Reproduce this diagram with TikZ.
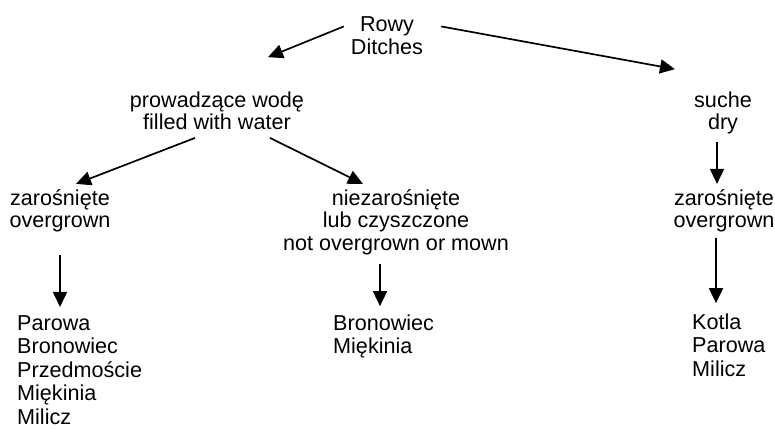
\documentclass[tikz,border=0pt]{standalone}
\usepackage{fontspec}
\setmainfont{Liberation Sans}
\usetikzlibrary{calc,arrows.meta}
\begin{document}
\begin{tikzpicture}[x=1pt,y=-1pt,
  lbl/.style={inner sep=0pt, font=\fontsize{21.6}{22.5}\selectfont, align=center, anchor=base},
  lst/.style={inner sep=0pt, font=\fontsize{21.6}{23.5}\selectfont, align=left, anchor=base west},
  arr/.style={line width=1.7pt, -{Triangle[length=15pt,width=14pt]}}]
\useasboundingbox (0,0) rectangle (775,428);
\node[lbl] (rowy) at (387,54) {Rowy\\Ditches};
\node[lbl] (prow) at (217,129.5) {prowadzące wodę\\filled with water};
\node[lbl] (suche) at (723,129.5) {suche\\dry};
\node[lbl] (zarL) at (60,227.5) {zarośnięte\\overgrown};
\node[lbl] (niez) at (396,250) {niezarośnięte\\lub czyszczone\\not overgrown or mown};
\node[lbl] (zarR) at (724,227.5) {zarośnięte\\overgrown};
\node[lst] (listL) at (17,424) {Parowa\\Bronowiec\\Przedmoście\\Miękinia\\Milicz};
\node[lst] (listM) at (333,353.5) {Bronowiec\\Miękinia};
\node[lst] (listR) at (692,376) {Kotla\\Parowa\\Milicz};
\draw[arr] ($(rowy.north west)+(-7,10)$) -- ($(prow.north)+(51,-34)$);
\draw[arr] ($(rowy.north east)+(18,10)$) -- ($(suche.north)+(-48,-22)$);
\draw[arr] ($(prow.south)+(-22,8)$) -- ($(zarL.north)+(16,-5)$);
\draw[arr] ($(prow.south)+(53,8)$) -- ($(niez.north)+(-33,-5)$);
\draw[arr] ($(zarL.south)+(0,23)$) -- ($(zarL.south |- listL.north)+(0,-8)$);
\draw[arr] ($(niez.south)+(-16,9)$) -- ($(niez.south |- listM.north)+(-16,-8)$);
\draw[arr] ($(suche.south)+(-6,8)$) -- ($(suche.south |- zarR.north)+(-6,-5)$);
\draw[arr] ($(zarR.south)+(-8,6)$) -- ($(zarR.south |- listR.north)+(-8,-10)$);
\end{tikzpicture}
\end{document}
